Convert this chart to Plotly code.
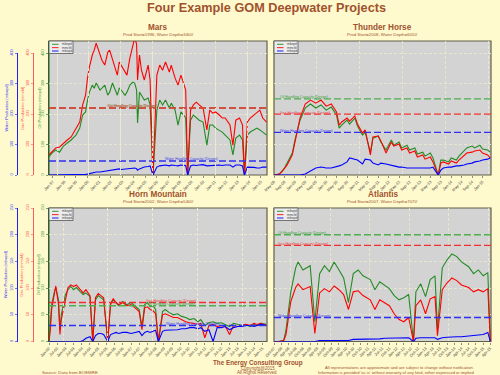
import plotly.graph_objects as go

# ---------------- data ----------------
mars_dates = ["1996-09","1996-12","1997-04","1997-08","1997-12","1998-04","1998-08","1999-01","1999-05","1999-08",
"1999-11","2000-01","2000-03","2000-06","2000-08","2000-10","2001-02","2001-04","2001-07","2001-10",
"2001-12","2002-03","2002-06","2002-08","2002-10","2002-12","2003-04","2003-06","2003-09","2003-12",
"2004-02","2004-04","2004-05","2004-07","2004-09","2004-12","2005-04","2005-06","2005-09","2006-01",
"2006-04","2006-07","2006-10","2007-02","2007-04","2007-08","2007-11","2008-02","2008-05","2008-07",
"2008-09","2008-12","2009-03","2009-06","2009-09","2010-01","2010-05","2010-08","2010-11","2011-02",
"2011-06","2011-09","2011-12","2012-05","2012-08","2012-11","2013-03","2013-06","2013-08","2013-11",
"2014-02","2014-06","2014-09","2014-12","2015-03","2015-07"]
mars_oil = [59,72,82,75,95,105,115,131,154,197,
207,246,272,295,285,302,279,285,295,262,
272,302,279,262,285,279,262,272,295,305,
302,279,171,272,262,246,253,230,0,213,
246,230,246,220,236,213,164,207,197,187,
0,180,197,187,180,174,98,164,164,154,
148,141,131,115,66,121,131,115,0,131,
141,148,154,148,141,131]
mars_gas = [66,75,89,92,105,115,125,154,174,230,
262,318,354,394,410,433,394,377,361,403,
410,377,344,328,371,361,338,328,384,426,
450,430,312,394,344,312,361,312,0,328,
361,344,371,338,361,318,295,328,295,279,
0,213,230,239,230,220,148,213,203,207,
197,187,187,164,98,180,187,164,0,174,
187,197,207,213,187,174]
mars_water = [0,0,0,0,0,0,0,0,0,0,
2,3,5,7,8,10,10,11,13,15,
16,16,18,20,20,18,20,21,21,23,
23,21,16,20,23,26,28,30,0,26,
30,31,33,30,33,31,30,33,33,31,
0,30,33,31,33,34,30,31,33,34,
33,31,33,33,26,33,33,30,0,26,
26,25,23,23,26,26]
mars_cap = {"oil": 220, "gas": 220, "water": 46}

th_dates = ["2008-05","2008-07","2008-08","2008-09","2008-10","2008-11","2008-12","2009-01","2009-03","2009-05",
"2009-07","2009-09","2009-11","2010-01","2010-03","2010-05","2010-06","2010-07","2010-09","2010-10",
"2010-12","2011-01","2011-03","2011-04","2011-06","2011-07","2011-09","2011-10","2011-12","2012-02",
"2012-03","2012-05","2012-06","2012-08","2012-09","2012-11","2012-12","2013-02","2013-03","2013-05",
"2013-06","2013-08","2013-09","2013-10","2013-12","2014-01","2014-03","2014-04","2014-06","2014-07",
"2014-09","2014-10","2014-12","2015-01","2015-03","2015-04"]
th_oil = [0,3,13,23,39,56,72,115,180,220,
233,220,230,213,223,197,154,164,180,167,
187,161,131,141,75,121,128,108,82,115,
98,108,89,98,82,89,69,75,62,72,
56,0,49,49,43,56,49,62,82,89,
95,89,98,85,82,75]
th_gas = [0,3,10,20,33,49,66,108,187,233,
246,236,246,226,233,207,164,174,187,177,
194,167,138,148,66,125,128,112,72,108,
95,102,82,89,72,79,59,66,52,59,
43,0,39,43,36,46,39,49,66,72,
75,79,82,72,66,56]
th_water = [0,0,0,0,0,0,0,0,0,3,
13,23,26,23,23,26,30,33,43,56,
52,49,36,52,49,39,33,39,36,33,
30,26,26,23,23,23,23,23,23,23,
26,0,16,23,26,26,30,30,33,36,
39,43,46,49,52,56]
th_cap = {"oil": 250, "gas": 200, "water": 140}

horn_dates = ["2002-01","2002-02","2002-03","2002-05","2002-06","2002-08","2002-09","2002-10","2003-01","2003-03",
"2003-05","2003-07","2003-09","2003-12","2004-02","2004-04","2004-07","2004-09","2004-11","2005-01",
"2005-03","2005-05","2005-08","2005-10","2005-12","2006-02","2006-04","2006-07","2006-10","2007-01",
"2007-04","2007-07","2007-09","2007-11","2008-01","2008-03","2008-05","2008-07","2008-09","2008-12",
"2009-02","2009-05","2009-08","2009-11","2010-02","2010-05","2010-08","2010-11","2011-02","2011-04",
"2011-07","2011-10","2012-01","2012-04","2012-07","2012-10","2013-01","2013-04","2013-07","2013-10",
"2014-01","2014-04","2014-07","2014-09","2014-12","2015-04"]
horn_oil = [0,32,69,93,101,78,22,50,88,97,
103,97,101,93,88,91,84,0,78,86,
82,78,0,69,78,73,67,75,69,73,
67,60,28,69,73,65,67,60,0,56,
60,54,50,52,47,45,41,43,37,41,
30,35,37,34,35,32,28,34,32,30,
32,28,32,30,34,32]
horn_gas = [0,22,60,88,104,69,13,41,82,101,
106,103,106,97,91,97,86,0,82,90,
86,82,0,71,80,73,69,73,67,69,
63,56,22,63,65,60,58,52,0,50,
52,49,45,45,41,37,35,34,32,34,
7,30,32,28,30,28,13,30,28,30,
32,30,34,32,34,30]
horn_water = [0,0,0,0,0,0,0,0,0,0,
0,0,0,0,2,6,9,0,11,15,
15,13,0,13,15,17,15,17,17,15,
17,19,11,17,19,17,19,21,0,19,
21,21,22,22,24,24,26,26,24,26,
19,22,0,26,26,28,22,26,28,28,
30,30,28,30,32,30]
horn_cap = {"oil": 67, "gas": 73, "water": 30}

atl_dates = ["2007-10","2007-12","2008-02","2008-03","2008-05","2008-07","2008-08","2008-10","2009-01","2009-03",
"2009-05","2009-07","2009-09","2009-11","2010-01","2010-03","2010-05","2010-07","2010-09","2010-11",
"2011-02","2011-04","2011-06","2011-08","2011-10","2011-12","2012-02","2012-04","2012-06","2012-08",
"2012-09","2012-11","2013-01","2013-03","2013-05","2013-06","2013-08","2013-10","2013-12","2014-02",
"2014-04","2014-07","2014-09","2014-11","2015-01","2015-03","2015-04"]
atl_oil = [0,0,2,22,93,138,149,134,142,37,
127,142,131,149,134,119,73,127,134,123,
116,97,112,106,99,86,78,82,88,0,
93,108,84,116,123,22,138,153,164,159,
149,140,127,134,123,129,0]
atl_gas = [0,0,2,13,75,101,108,97,103,15,
91,99,93,104,97,88,60,93,95,86,
78,60,78,73,67,52,41,37,45,0,
67,78,52,80,84,11,97,110,119,114,
106,101,93,97,93,99,0]
atl_water = [0,0,0,0,0,0,0,0,1,0,
2,2,2,2,3,3,2,4,4,4,
5,4,5,6,6,6,7,6,7,0,
6,7,7,7,7,4,7,8,9,9,
9,10,11,12,13,17,0]
atl_cap = {"oil": 200, "gas": 180, "water": 45}

mars_ticks = [0, 100, 200, 300, 400]
horn_ticks = [0, 50, 100, 150, 200, 250]

# ---------------- styling ----------------
W, H = 500, 375
def px(x): return x / W
def py(y): return 1 - y / H

FONT = "Liberation Sans, Arial, sans-serif"
SIENNA = "#A0522D"
BG = "#FFFACD"
PLOTBG = "#D3D3D3"
BOX = "#5F5F4A"
GRID = "#EFEBCF"
OIL, GAS, WAT = "#228B22", "#FF0000", "#0000FF"
CAP = {"oil": "#4FAF4F", "gas": "#F03030", "water": "#3030F0"}
CAPLAB = {"oil": "#3E9E3E", "gas": "#E84040", "water": "#4040E8"}
CAPTXT = {"oil": "Oil Handling Capacity (Design)", "gas": "Gas Handling Capacity (Design)",
          "water": "Water Handling Capacity (Design)"}

panels = [
    dict(name="Mars", sub="Prod Start=1996, Water Depth=3400'", dates=mars_dates, oil=mars_oil, gas=mars_gas,
         water=mars_water, cap=mars_cap, box=(49, 41, 267, 175), yr=[0, 440], yt=mars_ticks, ytop=53,
         xr=["1996-09-01", "2015-07-15"], dtick="M12", tick0="1997-01-01", gdays=1000, left=True,
         lab={"oil": (132, "center"), "gas": (132, "center"), "water": (191, "center")}),
    dict(name="Thunder Horse", sub="Prod Start=2008, Water Depth=6050'", dates=th_dates, oil=th_oil, gas=th_gas,
         water=th_water, cap=th_cap, box=(274, 41, 491, 175), yr=[0, 440], yt=mars_ticks, ytop=53,
         xr=["2008-05-01", "2015-04-10"], dtick="M4", tick0="2008-05-01", gdays=500, left=False,
         lab={"oil": (278, "left"), "gas": (278, "left"), "water": (278, "left")}),
    dict(name="Horn Mountain", sub="Prod Start=2002, Water Depth=5400'", dates=horn_dates, oil=horn_oil,
         gas=horn_gas, water=horn_water, cap=horn_cap, box=(49, 208, 267, 341.5), yr=[0, 250], yt=horn_ticks,
         ytop=208, xr=["2002-01-01", "2015-04-15"], dtick="M6", tick0="2002-01-01", gdays=1000, left=True,
         lab={"oil": (171, "center"), "gas": (171, "center"), "water": (192, "center")}),
    dict(name="Atlantis", sub="Prod Start=2007, Water Depth=7070'", dates=atl_dates, oil=atl_oil, gas=atl_gas,
         water=atl_water, cap=atl_cap, box=(274, 208, 491, 341.5), yr=[0, 250], yt=horn_ticks, ytop=208,
         xr=["2007-10-01", "2015-04-10"], dtick="M3", tick0="2007-10-01", gdays=500, left=False,
         lab={"oil": (276, "left"), "gas": (276, "left"), "water": (276, "left")}),
]

fig = go.Figure()
shapes, annotations, layout = [], [], {}
extra_axis = 5

def ann(x, y, text, size, color, xanchor="center", yanchor="middle", angle=0, xref="paper", yref="paper", yshift=0):
    annotations.append(dict(x=x, y=y, xref=xref, yref=yref, text=text, showarrow=False, textangle=angle,
                            font=dict(size=size, color=color, family=FONT), xanchor=xanchor, yanchor=yanchor,
                            yshift=yshift))

for i, p in enumerate(panels, start=1):
    xs = "x" if i == 1 else f"x{i}"
    ys = "y" if i == 1 else f"y{i}"
    xk = "xaxis" if i == 1 else f"xaxis{i}"
    yk = "yaxis" if i == 1 else f"yaxis{i}"
    x0, y0, x1, y1 = p["box"]

    shapes.append(dict(type="rect", xref="paper", yref="paper", x0=px(x0), x1=px(x1), y0=py(y1), y1=py(y0),
                       fillcolor=PLOTBG, line=dict(width=0), layer="below"))
    shapes.append(dict(type="rect", xref="paper", yref="paper", x0=px(x0), x1=px(x1), y0=py(y1), y1=py(y0),
                       fillcolor="rgba(0,0,0,0)", line=dict(color=BOX, width=1.2), layer="below"))

    for key, col in (("oil", OIL), ("gas", GAS), ("water", WAT)):
        fig.add_trace(go.Scatter(x=p["dates"], y=p[key], mode="lines", line=dict(color=col, width=1.1),
                                 xaxis=xs, yaxis=ys, showlegend=False, hoverinfo="skip"))
    for key in ("oil", "gas", "water"):
        v = p["cap"][key]
        fig.add_trace(go.Scatter(x=p["xr"], y=[v, v], mode="lines",
                                 line=dict(color=CAP[key], width=1.4, dash="7px,3px"),
                                 xaxis=xs, yaxis=ys, showlegend=False, hoverinfo="skip"))
        lx, la = p["lab"][key]
        ann(px(lx), v, CAPTXT[key], 3.5, CAPLAB[key], xanchor=la, yref=ys, yshift=1.5)

    layout[xk] = dict(type="date", domain=[px(x0), px(x1)], range=p["xr"], anchor=ys, tickmode="linear",
                      automargin=False,
                      tick0=p["tick0"], dtick=p["dtick"], tickformat="%b-%y", tickangle=-45,
                      tickfont=dict(size=4, color="#444444", family=FONT), ticks="outside", ticklen=2,
                      tickwidth=0.6, tickcolor="#444444", showgrid=False, showline=False, zeroline=False,
                      minor=dict(tick0="1970-01-01", dtick=p["gdays"] * 86400000, showgrid=True,
                                 gridcolor=GRID, griddash="3px,2px", gridwidth=0.8, ticks=""))
    left = p["left"]
    layout[yk] = dict(domain=[py(y1), py(y0)], range=p["yr"], anchor=xs, tickmode="array", tickvals=p["yt"],
                      automargin=False,
                      ticktext=[str(v) for v in p["yt"]], showgrid=True, gridcolor=GRID, griddash="3px,2px",
                      gridwidth=0.8, zeroline=False, showticklabels=left, ticks="outside" if left else "",
                      ticklen=2, tickwidth=0.6, tickcolor="#1E6B1E", tickangle=-90,
                      tickfont=dict(size=3.8, color="#3C9A3C", family=FONT), showline=left,
                      linecolor="#1E6B1E", linewidth=1)

    if left:
        cy = (y0 + y1) / 2
        for pos, lcol, tcol, title, tx in ((17, "#2020FF", "#3A3AFF", "Water Production (mbwpd)", 5.5),
                                          (33, "#FF5A5A", "#FF5050", "Gas Production (mmcfd)", 22)):
            ek = f"yaxis{extra_axis}"
            layout[ek] = dict(domain=[py(y1), py(p["ytop"])], range=[0, p["yt"][-1]], anchor="free",
                              automargin=False,
                              position=px(pos), side="left", tickmode="array", tickvals=p["yt"],
                              ticktext=[str(v) for v in p["yt"]], showgrid=False, zeroline=False,
                              showline=True, linecolor=lcol, linewidth=1, ticks="outside", ticklen=2,
                              tickwidth=0.6, tickcolor=lcol, tickangle=-90,
                              tickfont=dict(size=3.8, color=tcol, family=FONT))
            fig.add_trace(go.Scatter(x=[p["xr"][0]], y=[None], mode="lines", xaxis=xs, yaxis=f"y{extra_axis}",
                                     showlegend=False, hoverinfo="skip"))
            ann(px(tx), py(cy), title, 4, tcol, angle=-90)
            extra_axis += 1
        ann(px(38.5), py(cy), "Oil Production (mbopd)", 4, "#3C9A3C", angle=-90)

    # panel titles
    ann(px((x0 + x1) / 2), py(y0 - 13.2), "<b>%s</b>" % p["name"], 8.2, SIENNA)
    ann(px((x0 + x1) / 2), py(y0 - 7.0), p["sub"], 4.3, SIENNA)

    # legend box
    shapes.append(dict(type="rect", xref="paper", yref="paper", x0=px(x0), x1=px(x0 + 24), y0=py(y0 + 12.5),
                       y1=py(y0), fillcolor="#ECECEC", line=dict(color="#555555", width=0.8), layer="above"))
    for k, (col, nm) in enumerate(((OIL, "mbopd"), (GAS, "mmcfd"), (WAT, "mbwpd"))):
        yy = y0 + 3.3 + 3.35 * k
        shapes.append(dict(type="line", xref="paper", yref="paper", x0=px(x0 + 3), x1=px(x0 + 9.5),
                           y0=py(yy), y1=py(yy), line=dict(color=col, width=0.9), layer="above"))
        ann(px(x0 + 11), py(yy), nm, 3.2, "#444444", xanchor="left")

# main title and footer
ann(px(266.5), py(8), "<b>Four Example GOM Deepwater Projects</b>", 12.7, SIENNA)
ann(px(257.5), py(363), "<b>The Energy Consulting Group</b>", 6.3, SIENNA)
ann(px(257.5), py(368), "Copyright@2015", 4.5, SIENNA)
ann(px(256.5), py(372.3), "All Rights Reserved", 4.5, SIENNA)
ann(px(70), py(372.3), "Source: Data from BOEMRE", 4.4, SIENNA)
ann(px(399), py(367.5), "All representations are approximate and are subject to change without notification.",
    4.1, SIENNA)
ann(px(396), py(372.3), "Information is provided 'as is' without warranty of any kind, either expressed or implied",
    4.1, SIENNA)

fig.update_layout(width=W, height=H, margin=dict(l=0, r=0, t=0, b=0, autoexpand=False), paper_bgcolor=BG,
                  plot_bgcolor="rgba(0,0,0,0)", showlegend=False, shapes=shapes, annotations=annotations,
                  font=dict(family=FONT), **layout)
fig.write_html("out.html", config={"displayModeBar": False, "staticPlot": True},
               post_script="document.body.style.margin='0';document.body.style.overflow='hidden';"
                           "document.documentElement.style.background='" + BG + "';")
